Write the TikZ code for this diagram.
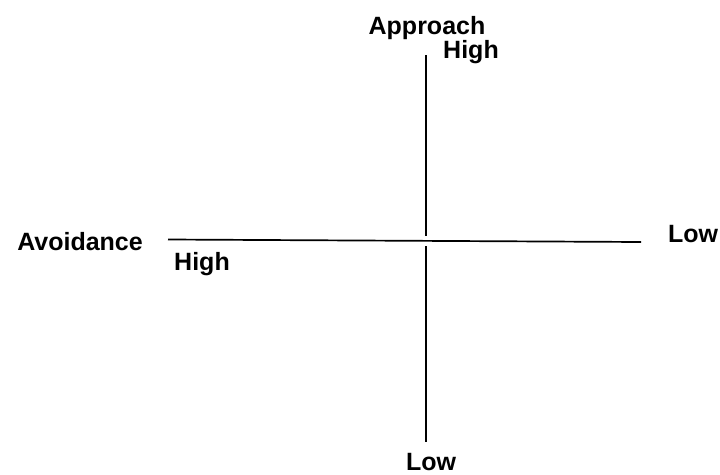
\documentclass[tikz,border=0pt]{standalone}
\usepackage{fontspec}
\setmainfont{Liberation Sans}
\usepackage{tikz}

\begin{document}
\begin{tikzpicture}[x=1pt,y=-1pt]
\tikzset{
    axislabel/.style={font=\fontsize{25}{28}\selectfont\bfseries,inner sep=0pt,anchor=base},
    axisline/.style={line width=1.7pt}
}
\useasboundingbox (0,0) rectangle (720,474);

\coordinate (Vtop) at (426,55);
\coordinate (Vgapup) at (426,236);
\coordinate (Vgapdn) at (426,246);
\coordinate (Vbot) at (426,442);
\coordinate (Hleft) at (168,239.5);
\coordinate (Hright) at (641,242);

\draw[axisline] (Vtop) -- (Vgapup);
\draw[axisline] (Vgapdn) -- (Vbot);
\draw[axisline] (Hleft) -- (Hright);

\node[axislabel] (approach) at (427,34) {Approach};
\node[axislabel] (apphigh) at (471,58) {High};
\node[axislabel] (avoid) at (80,250) {Avoidance};
\node[axislabel] (avohigh) at (202,270) {High};
\node[axislabel] (avolow) at (693,242) {Low};
\node[axislabel] (applow) at (431,470) {Low};
\end{tikzpicture}
\end{document}
